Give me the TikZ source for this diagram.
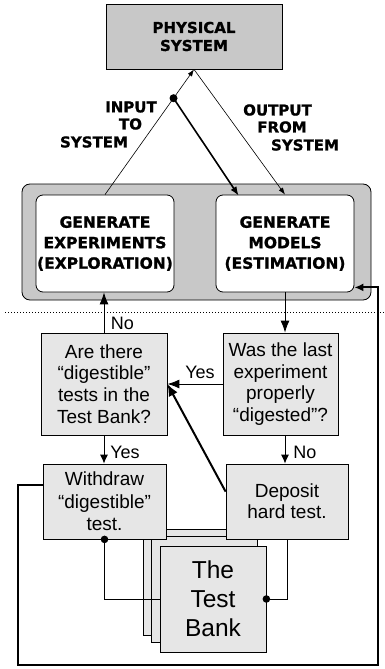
\documentclass[tikz,border=0pt]{standalone}
\usepackage{fontspec}
\setmainfont{Liberation Sans}
\newfontfamily\hdfont{DejaVu Sans}[BoldFeatures={FakeBold=1.2}]
\usetikzlibrary{arrows.meta,calc}
\definecolor{darkg}{HTML}{C8C8C8}
\definecolor{lightg}{HTML}{E6E6E6}
\begin{document}
\begin{tikzpicture}[x=1pt,y=-1pt,line width=0.8pt,
  physbox/.style={draw, fill=darkg, inner sep=0pt, minimum width=176pt, minimum height=65pt, align=center, font=\hdfont\bfseries\fontsize{15}{18}\selectfont},
  outerbox/.style={draw, fill=darkg, rounded corners=8pt, minimum width=349pt, minimum height=116pt, inner sep=0pt},
  genbox/.style={draw, fill=white, rounded corners=7pt, minimum width=138pt, minimum height=97pt, inner sep=0pt, align=center, font=\hdfont\bfseries\fontsize{15.5}{20.5}\selectfont},
  qbox/.style={draw, fill=lightg, inner sep=0pt, align=center, font=\fontsize{19}{21.7}\selectfont},
  sheet/.style={draw, fill=lightg, minimum width=106pt, minimum height=106pt, inner sep=0pt},
  lbl/.style={inner sep=0pt, font=\fontsize{18}{20}\selectfont},
  hlbl/.style={inner sep=0pt, font=\hdfont\bfseries\fontsize{15}{18}\selectfont},
  smallarr/.style={-{Latex[length=7pt,width=5pt]}, line width=0.6pt},
  arr/.style={-{Latex[length=12pt,width=9pt]}, line width=0.9pt},
  arrs/.style={-{Latex[length=9pt,width=8pt]}, line width=0.9pt},
  thickarr/.style={-{Latex[length=12pt,width=10pt]}, line width=2pt}
]
\useasboundingbox (0,0) rectangle (384,669);

% top part
\node[outerbox] (outer) at (196.5,242) {};
\node[physbox] (phys) at (194,36.5) {PHYSICAL\\SYSTEM};
\node[genbox] (genexp) at (105,243.5) {GENERATE\\EXPERIMENTS\\(EXPLORATION)};
\node[genbox] (genmod) at (285,243.5) {GENERATE\\MODELS\\(ESTIMATION)};

\draw[smallarr] (genexp.north) -- (phys.south);
\draw[smallarr] (phys.south) -- (genmod.north);
\coordinate (dot) at ($(genexp.north)!0.77!(phys.south)$);
\draw[line width=1.6pt, -{Latex[length=9pt,width=7pt]}] (dot) -- ($(genmod.north west)+(23,1)$);
\fill (dot) circle (4pt);

\node[hlbl] (in1) at (131,107) {INPUT};
\node[hlbl] (in2) at (130.5,124) {TO};
\node[hlbl] (in3) at (94,142) {SYSTEM};
\node[hlbl] (out1) at (277.5,110) {OUTPUT};
\node[hlbl] (out2) at (282,127) {FROM};
\node[hlbl] (out3) at (305,145) {SYSTEM};

% divider
\coordinate (dl) at (5,312);
\coordinate (dr) at (384,312);
\draw[dash pattern=on 1pt off 2pt, line width=0.7pt] (dl) -- (dr);

% lower part
\node[qbox, minimum width=126pt, minimum height=102pt] (are) at (104,384) {Are there\\“digestible”\\tests in the\\Test Bank?};
\node[qbox, minimum width=115pt, minimum height=102pt] (was) at (280.5,384) {Was the last\\experiment\\properly\\“digested”?};

\node[sheet] (s1) at (196,582.5) {};
\node[sheet] (s2) at (204.5,589) {};
\node[qbox, minimum width=123pt, minimum height=75pt, font=\fontsize{19}{22.5}\selectfont] (wd) at (104.5,501.5) {Withdraw\\“digestible”\\test.};
\node[qbox, minimum width=122pt, minimum height=75pt, font=\fontsize{19}{21}\selectfont] (dep) at (287,501.5) {Deposit\\hard test.};
\node[sheet, align=center, font=\fontsize{24.5}{29}\selectfont] (bank) at (213,599) {The\\Test\\Bank};

\draw[arr] (genmod.south) -- (genmod.south |- was.north);
\draw[arr] (are.north) -- (are.north |- genexp.south);
\node[lbl] (no1) at (122.5,323) {No};
\draw[arr] (was.west) -- (are.east);
\node[lbl] (yes1) at (200,372) {Yes};
\draw[arrs] (are.south) -- (are.south |- wd.north);
\node[lbl] (yes2) at (125,452) {Yes};
\draw[arrs] (was.south -| genmod.south) -- (dep.north -| genmod.south);
\node[lbl] (no2) at (305,452) {No};

\draw[thickarr] ($(dep.north west)+(0,28)$) -- (are.east);

\coordinate (lb) at (18,665);
\coordinate (rb) at (378,665);
\draw[line width=2pt, -{Latex[length=9pt,width=8pt]}] ($(wd.north west)+(0,21)$) -| (lb) -- (rb) |- ($(genmod.south east)+(0,-5)$);

\draw (wd.south) |- (bank.west);
\draw (dep.south) |- (bank.east);
\fill (wd.south) circle (3.8pt);
\fill (bank.east) circle (3.8pt);
\end{tikzpicture}
\end{document}
